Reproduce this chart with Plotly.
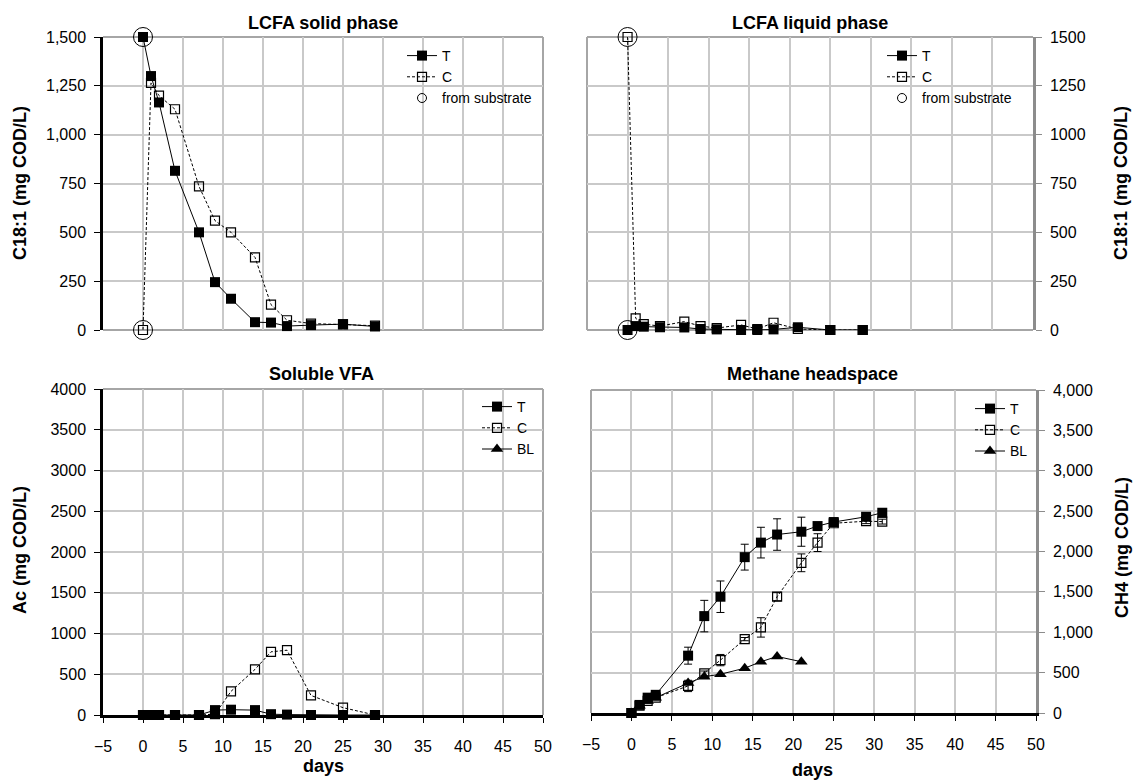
import plotly.graph_objects as go

# ---------------- data ----------------
sol_days = [0, 1, 2, 4, 7, 9, 11, 14, 16, 18, 21, 25, 29]
sol_T = [1500, 1300, 1165, 815, 500, 245, 160, 40, 38, 20, 25, 30, 18]
sol_C = [0, 1265, 1200, 1130, 735, 560, 500, 372, 130, 50, 33, 29, 22]

liq_days = [0, 1, 2, 4, 7, 9, 11, 14, 16, 18, 21, 25, 29]
liq_T = [0, 20, 17, 14, 13, 5, 3, 0, 0, 3, 14, 0, 0]
liq_C = [1500, 60, 30, 20, 43, 20, 10, 26, 5, 37, 5, 0, 0]

sub_days = [0, 0]
sub_solid = [1500, 0]
sub_liquid = [1500, 0]

vfa_days = [0, 1, 2, 4, 7, 9, 11, 14, 16, 18, 21, 25, 29]
vfa_T = [0, 0, 0, 0, 0, 60, 65, 60, 10, 5, 0, 0, 0]
vfa_C = [0, 0, 0, 0, 0, 10, 290, 560, 775, 795, 240, 90, 0]

ch4_days = [0, 1, 2, 3, 7, 9, 11, 14, 16, 18, 21, 23, 25, 29, 31]
ch4_T = [0, 100, 190, 225, 710, 1200, 1440, 1930, 2110, 2210, 2245, 2315, 2365, 2430, 2480]
ch4_T_err = [0, 20, 30, 30, 105, 195, 195, 160, 190, 195, 180, 40, 40, 30, 30]
ch4_C = [0, 90, 150, 190, 335, 490, 655, 915, 1060, 1440, 1860, 2110, 2350, 2375, 2370]
ch4_C_err = [0, 20, 30, 30, 70, 30, 70, 20, 120, 50, 110, 110, 30, 30, 30]
bl_days = [0, 1, 2, 3, 7, 9, 11, 14, 16, 18, 21]
ch4_BL = [0, 90, 150, 190, 370, 450, 480, 555, 635, 700, 635]

titles = ["LCFA solid phase", "LCFA liquid phase", "Soluble VFA", "Methane headspace"]

# ---------------- layout helpers ----------------
W, H = 1134, 781
FONT = "Liberation Sans, Arial, sans-serif"


def fx(px):
    return px / W


def fy(py):
    return 1 - py / H


P = {
    "TL": (103, 543, 37, 330),
    "TR": (587, 1033, 37, 330),
    "BL": (103, 543, 389, 715),
    "BR": (591, 1036, 390, 713),
}

T_line = dict(color="black", width=1)
C_line = dict(color="black", width=1, dash="3px,2px")
T_mark = dict(symbol="square", size=10, color="black")
C_mark = dict(symbol="square-open", size=9, color="black", line=dict(width=1.2, color="black"))
BL_mark = dict(symbol="triangle-up", size=11, color="black")
SUB_mark = dict(symbol="circle-open", size=19, color="black", line=dict(width=1, color="black"))
LEG_CIRCLE = dict(symbol="circle-open", size=9, color="black", line=dict(width=1, color="black"))

fig = go.Figure()


def add(x, y, xa, ya, name, line, marker, legend, showlegend=True, mode="lines+markers", err=None):
    kw = {}
    if err is not None:
        kw["error_y"] = dict(type="data", array=err, visible=True, color="black", thickness=1, width=4)
    if line is not None:
        kw["line"] = line
    fig.add_trace(go.Scatter(x=x, y=y, xaxis=xa, yaxis=ya, name=name, mode=mode,
                             marker=marker, legend=legend, showlegend=showlegend,
                             cliponaxis=False, **kw))


# top-left
add(sol_days, sol_T, "x", "y", "T", T_line, T_mark, "legend")
add(sol_days, sol_C, "x", "y", "C", C_line, C_mark, "legend")
add(sub_days, sub_solid, "x", "y", "from substrate", None, SUB_mark, "legend", showlegend=False, mode="markers")
add([None], [None], "x", "y", "from substrate", None, LEG_CIRCLE, "legend", mode="markers")

# top-right
add(liq_days, liq_T, "x2", "y2", "T", T_line, T_mark, "legend2")
add(liq_days, liq_C, "x2", "y2", "C", C_line, C_mark, "legend2")
add(sub_days, sub_liquid, "x2", "y2", "from substrate", None, SUB_mark, "legend2", showlegend=False, mode="markers")
add([None], [None], "x2", "y2", "from substrate", None, LEG_CIRCLE, "legend2", mode="markers")

# bottom-left
add(vfa_days, vfa_T, "x3", "y3", "T", T_line, T_mark, "legend3")
add(vfa_days, vfa_C, "x3", "y3", "C", C_line, C_mark, "legend3")
add([None], [None], "x3", "y3", "BL", T_line, BL_mark, "legend3")

# bottom-right
add(ch4_days, ch4_T, "x4", "y4", "T", T_line, T_mark, "legend4", err=ch4_T_err)
add(ch4_days, ch4_C, "x4", "y4", "C", C_line, C_mark, "legend4", err=ch4_C_err)
add(bl_days, ch4_BL, "x4", "y4", "BL", T_line, BL_mark, "legend4")

GRID = "#c9c9c9"
FRAME = "#a6a6a6"
AXGRAY = "#8c8c8c"

tickfont = dict(family=FONT, size=16, color="black")


def xax(key, panel, labels):
    x0, x1, y0, y1 = P[panel]
    anchor = {"xaxis": "y", "xaxis2": "y2", "xaxis3": "y3", "xaxis4": "y4"}[key]
    d = dict(domain=[fx(x0), fx(x1)], range=[-5, 50], dtick=5, tick0=-5,
             showgrid=True, gridcolor=GRID, gridwidth=1.5, zeroline=False, automargin=False,
             anchor=anchor, layer="below traces", fixedrange=True, tickfont=tickfont)
    if labels:
        d.update(showline=True, linecolor="black", linewidth=2.5, ticks="outside",
                 ticklen=5, tickwidth=1.2, tickcolor="black", showticklabels=True,
                 ticklabelstandoff=10)
    else:
        d.update(showline=False, ticks="", showticklabels=False)
    return d


def yax(key, panel, rng, dtick, side, color, fmt):
    x0, x1, y0, y1 = P[panel]
    anchor = {"yaxis": "x", "yaxis2": "x2", "yaxis3": "x3", "yaxis4": "x4"}[key]
    return dict(domain=[fy(y1), fy(y0)], range=rng, dtick=dtick, tick0=0, side=side,
                anchor=anchor, showgrid=True, gridcolor=GRID, gridwidth=1.5, zeroline=False,
                showline=True, linecolor=color, linewidth=2.5, ticks="outside", ticklen=6,
                tickwidth=1.2, tickcolor=color, tickformat=fmt, tickfont=tickfont,
                ticklabelstandoff=5, layer="below traces", fixedrange=True, automargin=False)


layout = dict(
    width=W, height=H, margin=dict(l=0, r=0, t=0, b=0, autoexpand=False),
    paper_bgcolor="white", plot_bgcolor="white",
    font=dict(family=FONT, color="black"),
    xaxis=xax("xaxis", "TL", False),
    xaxis2=xax("xaxis2", "TR", False),
    xaxis3=xax("xaxis3", "BL", True),
    xaxis4=xax("xaxis4", "BR", True),
    yaxis=yax("yaxis", "TL", [0, 1500], 250, "left", "black", ",d"),
    yaxis2=yax("yaxis2", "TR", [0, 1500], 250, "right", AXGRAY, "d"),
    yaxis3=yax("yaxis3", "BL", [0, 4000], 500, "left", "black", "d"),
    yaxis4=yax("yaxis4", "BR", [0, 4000], 500, "right", AXGRAY, ",d"),
    showlegend=True,
)

leg_common = dict(xanchor="left", yanchor="top", bgcolor="rgba(0,0,0,0)",
                  font=dict(family=FONT, size=14, color="black"), tracegroupgap=0,
                  itemclick=False, itemdoubleclick=False)
layout["legend"] = dict(x=fx(402), y=fy(40), **leg_common)
layout["legend2"] = dict(x=fx(882), y=fy(40), **leg_common)
layout["legend3"] = dict(x=fx(477), y=fy(391), **leg_common)
layout["legend4"] = dict(x=fx(970), y=fy(393), **leg_common)

fig.update_layout(**layout)

# frame edges (gray)
shapes = []


def edge(xr, yr, x0, y0, x1, y1):
    shapes.append(dict(type="line", xref=xr, yref=yr, x0=x0, y0=y0, x1=x1, y1=y1,
                       line=dict(color=FRAME, width=2), layer="below"))


edge("x domain", "y domain", 0, 1, 1, 1)
edge("x domain", "y domain", 1, 0, 1, 1)
edge("x domain", "y domain", 0, 0, 1, 0)
edge("x2 domain", "y2 domain", 0, 1, 1, 1)
edge("x2 domain", "y2 domain", 0, 0, 0, 1)
edge("x2 domain", "y2 domain", 0, 0, 1, 0)
edge("x3 domain", "y3 domain", 0, 1, 1, 1)
edge("x3 domain", "y3 domain", 1, 0, 1, 1)
edge("x4 domain", "y4 domain", 0, 1, 1, 1)
edge("x4 domain", "y4 domain", 0, 0, 0, 1)
fig.update_layout(shapes=shapes)

ann = []
tfont = dict(family=FONT, size=18, color="black")
for t, (cx, cy) in zip(titles, [(323, 23), (810, 23), (321, 374), (812, 374)]):
    ann.append(dict(text="<b>%s</b>" % t, x=fx(cx), y=fy(cy), xref="paper", yref="paper",
                    showarrow=False, xanchor="center", yanchor="middle", font=tfont))
for t, (cx, cy) in zip(["C18:1 (mg COD/L)", "C18:1 (mg COD/L)", "Ac (mg COD/L)", "CH4 (mg COD/L)"],
                       [(20, 183), (1121, 183), (20, 550), (1122, 548)]):
    ann.append(dict(text="<b>%s</b>" % t, x=fx(cx), y=fy(cy), xref="paper", yref="paper",
                    showarrow=False, xanchor="center", yanchor="middle", textangle=-90, font=tfont))
for cx, cy in [(323, 766), (812, 770)]:
    ann.append(dict(text="<b>days</b>", x=fx(cx), y=fy(cy), xref="paper", yref="paper",
                    showarrow=False, xanchor="center", yanchor="middle", font=tfont))
fig.update_layout(annotations=ann)

fig.write_html("out.html")
